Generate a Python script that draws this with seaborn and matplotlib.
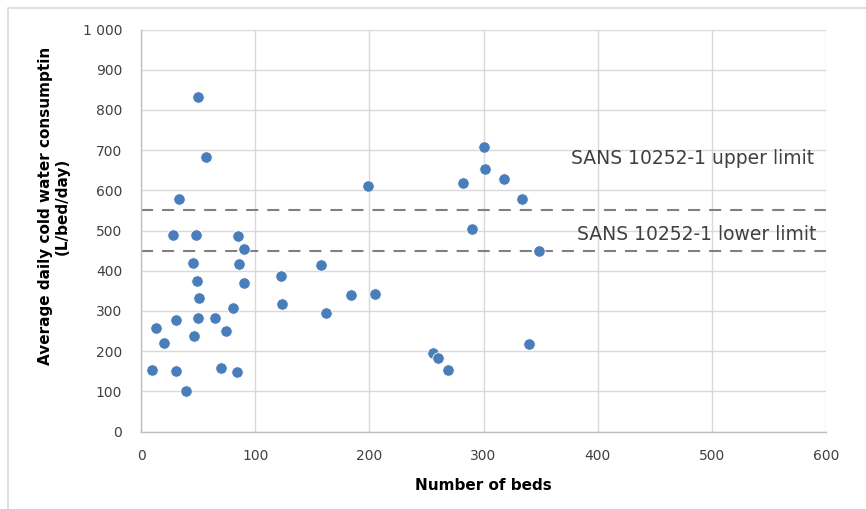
import matplotlib
matplotlib.use("Agg")
import matplotlib.pyplot as plt
import seaborn as sns
import pandas as pd
from matplotlib.lines import Line2D
from matplotlib.ticker import FuncFormatter

beds = [50, 57, 33.7, 28.4, 48.2, 85, 90.4, 45.6, 86, 122.5,
        49.1, 89.8, 50.6, 123.4, 80.2, 30.4, 49.7, 64.6, 12.9, 74.6,
        46.5, 19.9, 9.6, 30.4, 70.5, 84, 39.8,
        198.9, 157.6, 183.7, 204.7, 162.3,
        300.3, 301.2, 281.9, 318.2, 333.3, 289.5, 348.9, 255.6, 260.3, 268.8, 339.5]
consumption = [831, 682, 578, 488, 488, 486, 455, 420, 416, 387,
               375, 369, 332, 318, 308, 278, 283, 283, 257, 250,
               238, 221, 153, 150, 157, 148, 101,
               611, 414, 340, 341, 296,
               707, 653, 619, 628, 578, 503, 450, 196, 184, 153, 218]
upper_limit = 550
lower_limit = 450
upper_label = "SANS 10252-1 upper limit"
lower_label = "SANS 10252-1 lower limit"
x_label = "Number of beds"
y_label = "Average daily cold water consumptin\n(L/bed/day)"

df = pd.DataFrame({"beds": beds, "consumption": consumption})

sns.set_style("white")
plt.rcParams['font.family'] = ['DejaVu Sans']

W, H = 866, 509
fig = plt.figure(figsize=(W / 100, H / 100), dpi=100)
ax = fig.add_axes([141 / W, 1 - 431.5 / H, (826 - 141) / W, (431.5 - 29.5) / H])

# outer chart border (only top and left edges visible, cropped on the others)
fig.lines.append(Line2D([8 / W, 8 / W, 1.0], [0.0, 1 - 7.7 / H, 1 - 7.7 / H],
                        transform=fig.transFigure, color="#d9d9d9", linewidth=1.2))

sns.scatterplot(data=df, x="beds", y="consumption", ax=ax, s=68,
                color="#4a7ebb", edgecolor="white", linewidth=0.6, zorder=3)

dash = (0, (5.8, 4.3))
ax.axhline(upper_limit, color="#808080", linestyle=dash, linewidth=1.5, zorder=2)
ax.axhline(lower_limit, color="#808080", linestyle=dash, linewidth=1.5, zorder=2)

ax.text(590, 680, upper_label, ha="right", va="center", fontsize=13.5, color="#404040")
ax.text(592, 489, lower_label, ha="right", va="center", fontsize=13.5, color="#404040")

ax.set_xlim(0, 600)
ax.set_ylim(0, 1000)
ax.set_xticks(range(0, 601, 100))
ax.set_yticks(range(0, 1001, 100))
ax.yaxis.set_major_formatter(FuncFormatter(lambda v, p: f"{int(v):,}".replace(",", " ")))
ax.grid(True, color="#d9d9d9", linewidth=1)
ax.set_axisbelow(True)

for side in ["top", "right"]:
    ax.spines[side].set_visible(False)
for side in ["left", "bottom"]:
    ax.spines[side].set_color("#bfbfbf")
    ax.spines[side].set_linewidth(1)

ax.tick_params(axis="both", which="both", direction="out", length=4.5, width=1,
               color="#bfbfbf", labelsize=10, labelcolor="#404040")
ax.tick_params(axis="y", pad=9)
ax.tick_params(axis="x", pad=8)

ax.set_xlabel(x_label, fontsize=11, fontweight="bold", color="#000000")
ax.set_ylabel(y_label, fontsize=11, fontweight="bold", color="#000000",
              linespacing=1.2)
ax.xaxis.set_label_coords(0.5, (431.5 - 486) / (431.5 - 29.5))
ax.yaxis.set_label_coords((54 - 141) / (826 - 141), (431.5 - 206) / (431.5 - 29.5))
ax.xaxis.label.set_va("center")
ax.yaxis.label.set_va("center")

fig.savefig("out.png", dpi=100)
